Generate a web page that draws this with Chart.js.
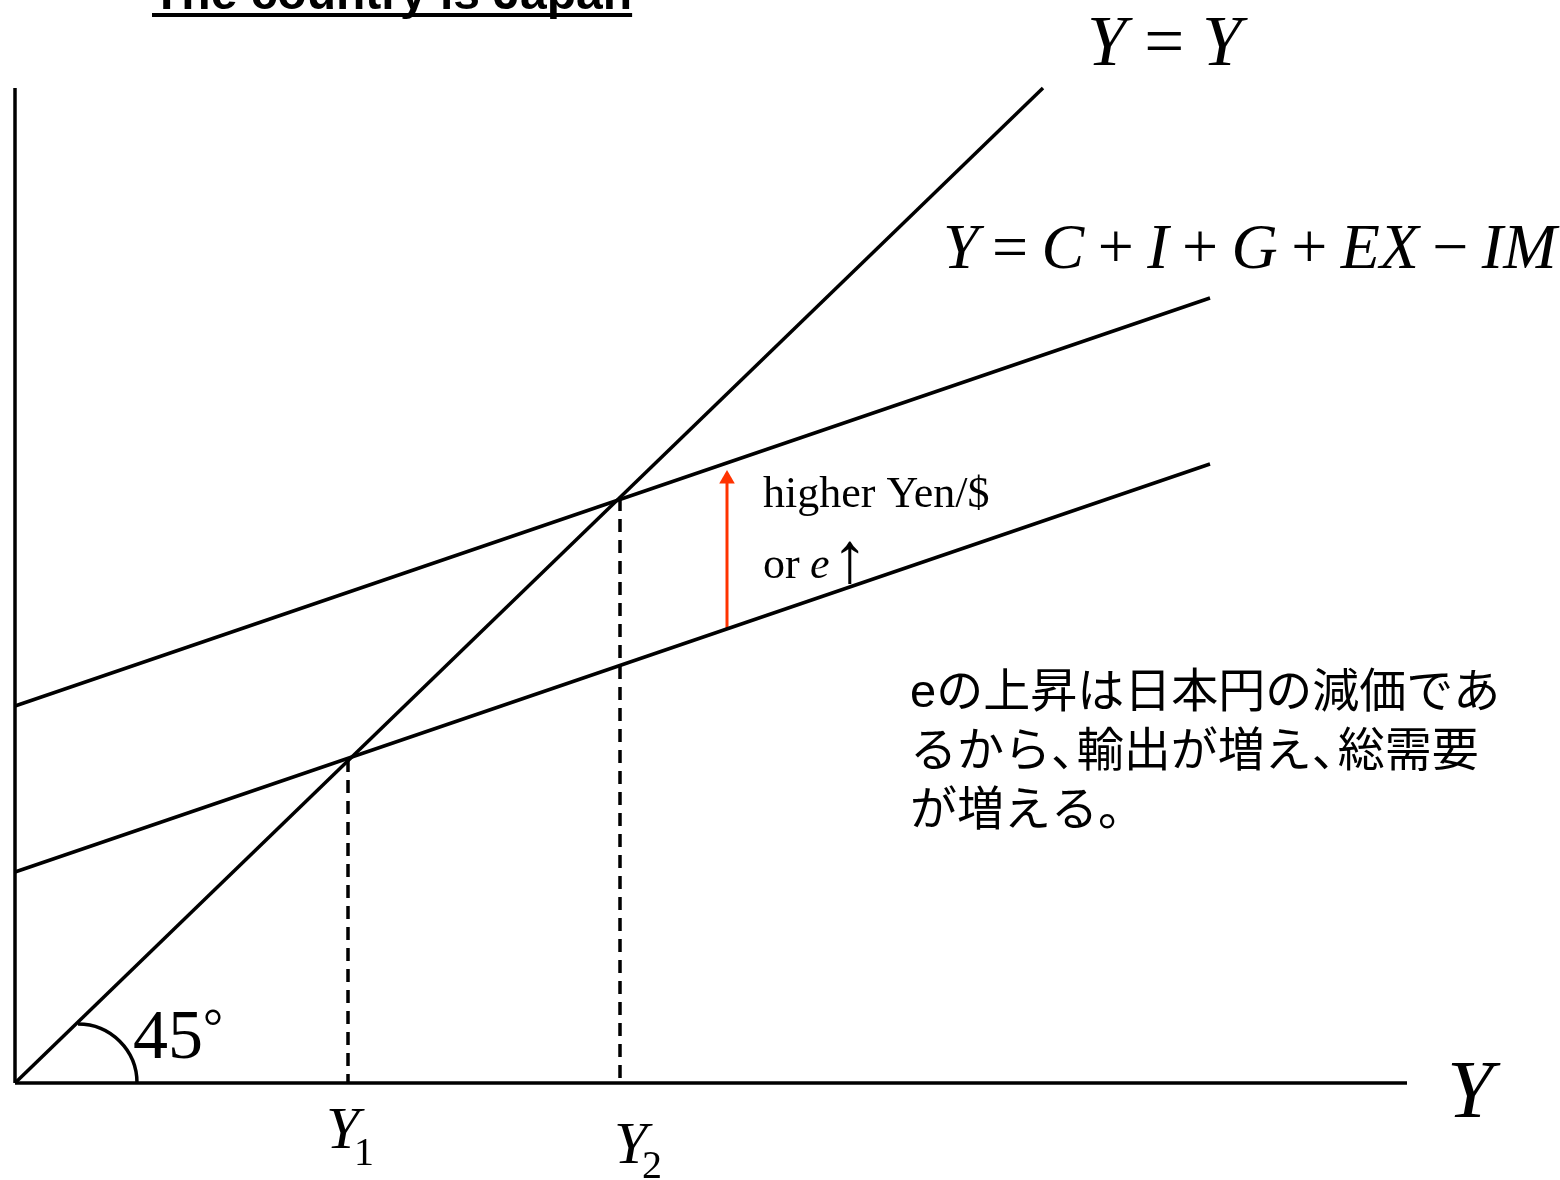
<!DOCTYPE html>
<html>
<head>
<meta charset="utf-8">
<title>The country is Japan</title>
<script src="https://cdn.jsdelivr.net/npm/chart.js@4.4.1/dist/chart.umd.min.js"></script>
<style>
  html, body { margin: 0; padding: 0; background: #fff; overflow: hidden; }
  canvas { display: block; }
</style>
</head>
<body>
<canvas id="crossChart" width="1560" height="1180"></canvas>
<script>
// output (x) against spending (y), same units on both axes
const axisY = [{ x: 0, y: 0 }, { x: 0, y: 995 }];
const axisX = [{ x: 0, y: 0 }, { x: 1392, y: 0 }];
const line45 = [{ x: 0, y: 0 }, { x: 1028, y: 995 }];
const demandLow = [{ x: 0, y: 211 }, { x: 1195, y: 619 }];
const demandHigh = [{ x: 0, y: 377 }, { x: 1195, y: 785 }];
const eqY1 = [{ x: 333, y: 324 }, { x: 333, y: 0 }];
const eqY2 = [{ x: 605, y: 585 }, { x: 605, y: 0 }];
const shiftArrow = [{ x: 712, y: 454 }, { x: 712, y: 604 }];

const jaLines = [
  "eの上昇は日本円の減価であ",
  "るから、輸出が増え、総需要",
  "が増える。"
];

const serif = '"Liberation Serif", "Times New Roman", serif';

// italic letters with upright operators, spaced like typeset math
function drawMath(ctx, tokens, x, baseline, size, gapEm) {
  const gap = size * gapEm;
  let cx = x;
  tokens.forEach(t => {
    const isOp = "=+−".includes(t);
    ctx.font = (isOp ? "" : "italic ") + size + "px " + serif;
    if (isOp) cx += gap;
    ctx.fillText(t, cx, baseline);
    cx += ctx.measureText(t).width;
    if (isOp) cx += gap;
  });
}

function drawJa(ctx, text, x, baseline, size) {
  ctx.font = size + 'px "Liberation Sans", "Noto Sans CJK JP", sans-serif';
  let cx = x;
  for (const ch of text) {
    ctx.fillText(ch, cx, baseline);
    const w = ctx.measureText(ch).width;
    cx += (ch === "、" || ch === "。") ? w * 0.55 : w;
  }
}

const labels = {
  id: "labels",
  afterDraw(chart) {
    const ctx = chart.ctx;
    const xs = chart.scales.x;
    const ys = chart.scales.y;
    ctx.save();
    ctx.fillStyle = "#000";
    ctx.strokeStyle = "#000";
    ctx.textBaseline = "alphabetic";

    // title, underlined
    ctx.font = 'bold 48px "Liberation Sans", Arial, sans-serif';
    ctx.fillText("The country is Japan", 152, 9);
    const tw = ctx.measureText("The country is Japan").width;
    ctx.fillRect(152, 13, tw, 4);

    drawMath(ctx, ["Y", "=", "Y"], 1087, 65, 71, 0.25);
    drawMath(ctx, ["Y", "=", "C", "+", "I", "+", "G", "+", "EX", "−", "IM"], 943, 268, 64, 0.21);

    ctx.font = "44px " + serif;
    ctx.fillText("higher Yen/$", 763, 507);
    ctx.fillText("or", 763, 578);
    ctx.font = "italic 44px " + serif;
    ctx.fillText("e", 810, 578);
    ctx.font = "72px " + serif;
    ctx.fillText("↑", 832, 582);

    jaLines.forEach((t, i) => drawJa(ctx, t, 910, 707 + i * 59, 47));

    // 45 degree mark
    ctx.lineWidth = 3.5;
    ctx.beginPath();
    ctx.arc(xs.getPixelForValue(63), ys.getPixelForValue(0), 59, -Math.PI / 2, 0);
    ctx.stroke();
    ctx.font = "70px " + serif;
    ctx.fillText("45", 133, 1058);
    ctx.font = "50px " + serif;
    ctx.fillText("°", 203, 1043);

    // axis and equilibrium labels
    ctx.font = "italic 83px " + serif;
    ctx.fillText("Y", 1447, 1117);
    const x1 = xs.getPixelForValue(eqY1[0].x);
    const x2 = xs.getPixelForValue(eqY2[0].x);
    ctx.font = "italic 60px " + serif;
    ctx.fillText("Y", x1 - 22, 1148);
    ctx.fillText("Y", x2 - 6, 1163);
    ctx.font = "40px " + serif;
    ctx.fillText("1", x1 + 6, 1165);
    ctx.fillText("2", x2 + 22, 1178);
    ctx.restore();
  }
};

function seg(data, extra) {
  return Object.assign({
    data: data,
    borderColor: "#000",
    borderWidth: 3.5,
    pointRadius: 0,
    fill: false,
    tension: 0,
    clip: false
  }, extra || {});
}

new Chart(document.getElementById("crossChart"), {
  type: "line",
  data: {
    datasets: [
      seg(axisY),
      seg(axisX),
      seg(line45),
      seg(demandLow),
      seg(demandHigh),
      seg(eqY1, { borderDash: [13, 8] }),
      seg(eqY2, { borderDash: [13, 8] }),
      seg(shiftArrow, {
        borderColor: "#ff3300",
        backgroundColor: "#ff3300",
        borderWidth: 3,
        pointStyle: "triangle",
        pointRadius: [0, 9],
        pointBorderWidth: 0
      })
    ]
  },
  options: {
    responsive: false,
    animation: false,
    layout: { autoPadding: false, padding: { left: 15, right: 0, top: 0, bottom: 97 } },
    plugins: { legend: { display: false }, tooltip: { enabled: false } },
    scales: {
      x: { type: "linear", min: 0, max: 1545, display: false },
      y: { type: "linear", min: 0, max: 1083, display: false }
    }
  },
  plugins: [labels]
});
</script>
</body>
</html>
